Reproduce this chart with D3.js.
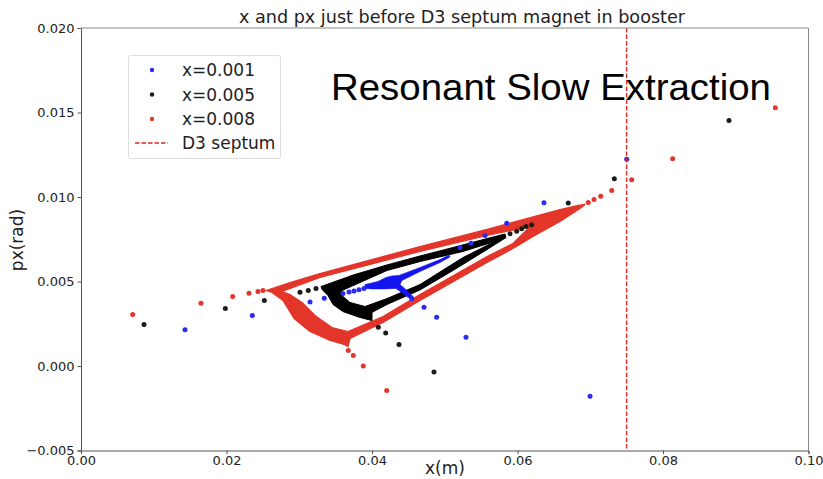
<!DOCTYPE html>
<html><head><meta charset="utf-8">
<script src="https://cdn.jsdelivr.net/npm/d3@7"></script>
<style>body{margin:0;background:#fff}svg{display:block}</style>
</head><body><div id="chart"></div>
<script>
// ---- data (x in m, px in rad) ----
const xTicks = [0.00, 0.02, 0.04, 0.06, 0.08, 0.10];
const yTicks = [-0.005, 0.000, 0.005, 0.010, 0.015, 0.020];
const seriesNames = ["x=0.001", "x=0.005", "x=0.008"];
const septumX = 0.075;

// dense closed bands (outline boundaries)
const redOuter = [[0.02543,0.00447],[0.02873,0.00494],[0.03285,0.00547],[0.04660,0.00707],[0.05581,0.00808],[0.06213,0.00882],[0.06584,0.00926],[0.06832,0.00950],[0.06928,0.00956],[0.06859,0.00932],[0.06584,0.00855],[0.06213,0.00766],[0.05938,0.00695],[0.05581,0.00612],[0.04660,0.00388],[0.04151,0.00257],[0.03698,0.00163],[0.03670,0.00115],[0.03615,0.00127],[0.03423,0.00151],[0.03148,0.00204],[0.02928,0.00281],[0.02777,0.00388],[0.02625,0.00435]];
const redInner = [[0.02763,0.00441],[0.03285,0.00524],[0.04660,0.00678],[0.05581,0.00772],[0.06172,0.00825],[0.05938,0.00725],[0.05581,0.00648],[0.04660,0.00423],[0.04151,0.00293],[0.03670,0.00204],[0.03450,0.00228],[0.03216,0.00299],[0.03038,0.00376],[0.02873,0.00423]];
const blackOuter = [[0.03299,0.00470],[0.03739,0.00538],[0.04206,0.00598],[0.04660,0.00651],[0.05113,0.00701],[0.05581,0.00754],[0.05828,0.00781],[0.05842,0.00760],[0.05581,0.00689],[0.05113,0.00565],[0.04660,0.00450],[0.04206,0.00364],[0.04000,0.00317],[0.04000,0.00269],[0.03835,0.00287],[0.03601,0.00322],[0.03464,0.00364],[0.03395,0.00417],[0.03313,0.00453]];
const blackInner = [[0.03574,0.00444],[0.04206,0.00565],[0.04660,0.00618],[0.05251,0.00678],[0.05691,0.00737],[0.05251,0.00642],[0.04660,0.00482],[0.04206,0.00399],[0.03904,0.00352],[0.03698,0.00376],[0.03601,0.00411]];
const blueBand = [[0.03904,0.00482],[0.04082,0.00500],[0.04192,0.00524],[0.04275,0.00533],[0.04371,0.00536],[0.04660,0.00583],[0.04935,0.00630],[0.05058,0.00657],[0.05072,0.00645],[0.04935,0.00612],[0.04660,0.00559],[0.04412,0.00506],[0.04385,0.00482],[0.04481,0.00447],[0.04577,0.00405],[0.04536,0.00393],[0.04426,0.00429],[0.04330,0.00459],[0.04179,0.00456],[0.04000,0.00456],[0.03904,0.00459]];

// isolated particles
const blueDots = [[0.01430,0.00214],[0.02355,0.00299],[0.03148,0.00378],[0.03344,0.00401],[0.03601,0.00429],[0.03684,0.00438],[0.03753,0.00444],[0.03821,0.00451],[0.03890,0.00459],[0.04546,0.00398],[0.04715,0.00348],[0.04889,0.00289],[0.05292,0.00170],[0.06997,-0.00179],[0.05210,0.00701],[0.05361,0.00727],[0.05553,0.00772],[0.05852,0.00845],[0.06364,0.00966],[0.07501,0.01224]];
const blackDots = [[0.00866,0.00246],[0.01984,0.00340],[0.02520,0.00388],[0.03010,0.00437],[0.03124,0.00447],[0.03230,0.00459],[0.04087,0.00230],[0.04188,0.00196],[0.04371,0.00127],[0.04852,-0.00036],[0.05897,0.00782],[0.05989,0.00798],[0.06058,0.00812],[0.06117,0.00825],[0.06195,0.00836],[0.06698,0.00965],[0.07331,0.01108],[0.08907,0.01453]];
const redDots = [[0.00711,0.00305],[0.01649,0.00372],[0.02085,0.00411],[0.02309,0.00431],[0.02433,0.00441],[0.02502,0.00447],[0.03674,0.00092],[0.03743,0.00062],[0.03880,0.00000],[0.04202,-0.00145],[0.06973,0.00967],[0.07052,0.00985],[0.07144,0.01005],[0.07295,0.01038],[0.07570,0.01102],[0.08133,0.01226],[0.09544,0.01528]];

const colors = {blue:"#2b2bef", black:"#1c1c1c", red:"#e4352a"};

const W = 823, H = 479;
const svg = d3.select("#chart").append("svg").attr("width", W).attr("height", H)
  .style("font-family", "'DejaVu Sans', sans-serif");

const x = d3.scaleLinear().domain([0, 0.10]).range([81, 808.5]);
const y = d3.scaleLinear().domain([-0.005, 0.020]).range([450.5, 28]);

const line = d3.line().x(d => x(d[0])).y(d => y(d[1]));

const plot = svg.append("g");

// dense rings
plot.append("path").attr("d", line(redOuter) + "Z" + line(redInner) + "Z")
  .attr("fill", colors.red).attr("fill-rule", "evenodd")
  .attr("stroke", colors.red).attr("stroke-width", 1.2).attr("stroke-linejoin", "round");
plot.append("path").attr("d", line(blackOuter) + "Z" + line(blackInner) + "Z")
  .attr("fill", "#000").attr("fill-rule", "evenodd")
  .attr("stroke", "#000").attr("stroke-width", 1).attr("stroke-linejoin", "round");
plot.append("path").attr("d", line(blueBand) + "Z")
  .attr("fill", "#1414f0").attr("stroke", "#1414f0").attr("stroke-width", 0.6);

function dots(data, c) {
  plot.append("g").selectAll("circle").data(data).join("circle")
    .attr("cx", d => x(d[0])).attr("cy", d => y(d[1])).attr("r", 2.5).attr("fill", c);
}
dots(blueDots, colors.blue);
dots(blackDots, colors.black);
dots(redDots, colors.red);

// septum line
plot.append("line").attr("x1", x(septumX)).attr("x2", x(septumX)).attr("y1", y(0.020)).attr("y2", y(-0.005))
  .attr("stroke", "#e02a2a").attr("stroke-width", 1.4).attr("stroke-dasharray", "4.5,2");

// axes
const axisColor = "#555";
const xAxis = svg.append("g").attr("transform", `translate(0,${y(-0.005)})`)
  .call(d3.axisBottom(x).tickValues(xTicks).tickFormat(d3.format(".2f")).tickSize(3.5).tickPadding(2));
const yAxis = svg.append("g").attr("transform", `translate(${x(0)},0)`)
  .call(d3.axisLeft(y).tickValues(yTicks).tickFormat(d => d3.format(".3f")(d).replace("-", "\u2212")).tickSize(3.5).tickPadding(3));
[xAxis, yAxis].forEach(a => {
  a.selectAll("text").attr("font-size", 13).attr("fill", "#222").attr("font-family", "'DejaVu Sans', sans-serif");
  a.selectAll("line").attr("stroke", axisColor);
  a.select(".domain").attr("stroke", axisColor);
});
// top and right spines
svg.append("line").attr("x1", x(0)).attr("x2", x(0.10)).attr("y1", y(0.02)).attr("y2", y(0.02)).attr("stroke", "#888");
svg.append("line").attr("x1", x(0.10)).attr("x2", x(0.10)).attr("y1", y(0.02)).attr("y2", y(-0.005)).attr("stroke", "#888");

// titles
svg.append("text").attr("x", 462).attr("y", 23).attr("text-anchor", "middle")
  .attr("font-size", 17.6).attr("fill", "#222").text("x and px just before D3 septum magnet in booster");
svg.append("text").attr("x", 445).attr("y", 474).attr("text-anchor", "middle")
  .attr("font-size", 17).attr("fill", "#222").text("x(m)");
svg.append("text").attr("transform", "translate(23,240) rotate(-90)").attr("text-anchor", "middle")
  .attr("font-size", 17).attr("fill", "#222").text("px(rad)");
svg.append("text").attr("x", 331).attr("y", 100)
  .attr("font-family", "'Liberation Sans', Arial, sans-serif").attr("font-size", 37)
  .attr("textLength", 440).attr("lengthAdjust", "spacingAndGlyphs")
  .attr("fill", "#000").text("Resonant Slow Extraction");

// legend
const lg = svg.append("g");
lg.append("rect").attr("x", 128.5).attr("y", 55.5).attr("width", 152).attr("height", 103).attr("rx", 2)
  .attr("fill", "#fff").attr("fill-opacity", 0.85).attr("stroke", "#ddd");
const legItems = [
  {name: seriesNames[0], c: colors.blue, yy: 70},
  {name: seriesNames[1], c: colors.black, yy: 94.5},
  {name: seriesNames[2], c: colors.red, yy: 119}
];
legItems.forEach(it => {
  lg.append("circle").attr("cx", 152).attr("cy", it.yy).attr("r", 2.2).attr("fill", it.c);
  lg.append("text").attr("x", 182).attr("y", it.yy + 6).attr("font-size", 17).attr("fill", "#222").text(it.name);
});
lg.append("line").attr("x1", 135).attr("x2", 168).attr("y1", 143).attr("y2", 143)
  .attr("stroke", "#e02a2a").attr("stroke-width", 1.3).attr("stroke-dasharray", "4.5,2");
lg.append("text").attr("x", 182).attr("y", 149).attr("font-size", 17).attr("fill", "#222").text("D3 septum");
</script></body></html>
